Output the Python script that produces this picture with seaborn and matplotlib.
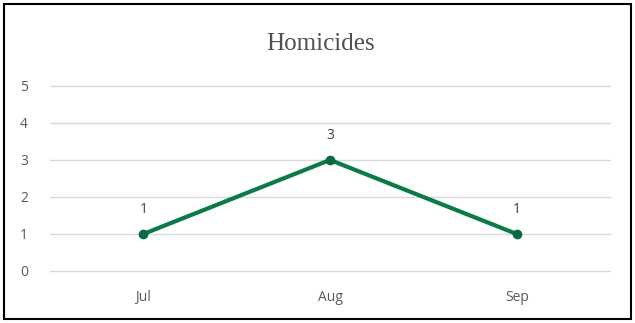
import matplotlib
matplotlib.use("Agg")
import matplotlib.pyplot as plt
import seaborn as sns
import pandas as pd
from matplotlib.patches import Rectangle

months = ["Jul", "Aug", "Sep"]
homicides = [1, 3, 1]

df = pd.DataFrame({"Month": months, "Homicides": homicides})

sns.set_theme(style="white")
plt.rcParams['font.family'] = ['Open Sans', 'DejaVu Sans']

fig = plt.figure(figsize=(6.35, 3.23), dpi=100)
ax = fig.add_axes([0.0787, 0.161, 0.882, 0.573])

sns.lineplot(data=df, x="Month", y="Homicides", ax=ax, color="#0B7A48",
             linewidth=3, marker="o", markersize=7, markeredgewidth=0,
             markerfacecolor="#0A6B40", sort=False)

ax.set_xlim(-0.5, 2.5)
ax.set_ylim(0, 5)
ax.set_yticks(range(0, 6))
ax.yaxis.grid(True, color="#D9D9D9", linewidth=1)
for gl in ax.get_ygridlines():
    gl.set_clip_on(False)
ax.set_axisbelow(True)
for s in ax.spines.values():
    s.set_visible(False)
ax.set_xlabel("")
ax.set_ylabel("")
ax.tick_params(axis="both", length=0, labelsize=10, colors="#595959")
ax.tick_params(axis="y", pad=16)
ax.tick_params(axis="x", pad=14)

# data labels
for i, v in enumerate(homicides):
    ax.annotate(str(v), (i, v), xytext=(0, 12), textcoords="offset points",
                ha="center", va="bottom", fontsize=10, color="#404040")

fig.text(0.504, 0.865, "Homicides", ha="center", va="center",
         family="Liberation Serif", fontsize=18, color="#505050")

fig.patches.append(Rectangle((0.006, 0.012), 0.988, 0.976, transform=fig.transFigure,
                             fill=False, edgecolor="black", linewidth=1.5))

fig.savefig("out.png", dpi=100)
